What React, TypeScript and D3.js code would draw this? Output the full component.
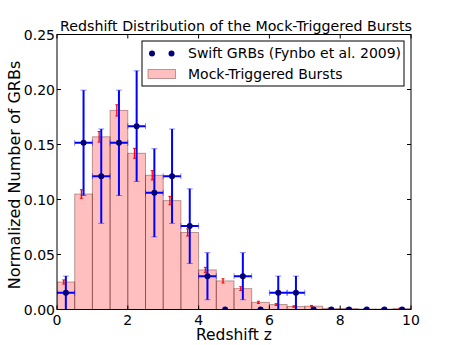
import React from "react";
import * as d3 from "d3";

// Mock-triggered bursts histogram (bin edges 0..10 step 0.5)
const binStarts = [0, 0.5, 1, 1.5, 2, 2.5, 3, 3.5, 4, 4.5, 5, 5.5, 6, 6.5, 7, 7.5, 8, 8.5, 9, 9.5];
const mockValues = [0.025, 0.105, 0.157, 0.181, 0.142, 0.122, 0.099, 0.070, 0.036, 0.026, 0.019, 0.0065, 0.0045, 0.0027, 0.003, 0.0009, 0.0009, 0.0004, 0.0004, 0.0009];
const mockErrors = [0.0019, 0.0039, 0.0048, 0.0051, 0.0045, 0.0042, 0.0038, 0.0032, 0.0023, 0.0019, 0.0017, 0.001, 0.0008, 0.0006, 0.0007, 0.0004, 0.0004, 0.0002, 0.0002, 0.0004];

// Swift GRBs (Fynbo et al. 2009)
const swiftZ = [0.25, 0.75, 1.25, 1.75, 2.25, 2.75, 3.25, 3.75, 4.25, 4.75, 5.25, 5.75, 6.25, 6.75, 7.25, 7.75, 8.25, 8.75, 9.25, 9.75];
const swiftValues = [0.0152, 0.1515, 0.1212, 0.1515, 0.1667, 0.1061, 0.1212, 0.0758, 0.0303, 0, 0.0303, 0, 0.0152, 0.0152, 0, 0, 0, 0, 0, 0];
const swiftErrors = [0.0152, 0.0479, 0.0429, 0.0479, 0.0503, 0.0401, 0.0429, 0.0339, 0.0214, 0, 0.0214, 0, 0.0152, 0.0152, 0, 0, 0, 0, 0, 0];
const swiftXErr = 0.25;

const xTicks = [0, 2, 4, 6, 8, 10];
const yTicks = [0, 0.05, 0.1, 0.15, 0.2, 0.25];

const titleText = "Redshift Distribution of the Mock-Triggered Bursts";
const xLabel = "Redshift z";
const yLabel = "Normalized Number of GRBs";
const legendSwift = "Swift GRBs (Fynbo et al. 2009)";
const legendMock = "Mock-Triggered Bursts";

export default function App() {
  const W = 457, H = 345;
  const left = 57, right = 411, top = 34.5, bottom = 309.5;
  const x = d3.scaleLinear().domain([0, 10]).range([left, right]);
  const y = d3.scaleLinear().domain([0, 0.25]).range([bottom, top]);
  const font = "DejaVu Sans, sans-serif";
  const tickLen = 4;
  const blue = "#0000ff";
  const navy = "#00007a";

  return (
    <svg width={W} height={H} style={{ position: "absolute", left: 0, top: 0, background: "#fff" }} fontFamily={font}>
      <defs>
        <clipPath id="plotclip">
          <rect x={left} y={top} width={right - left} height={bottom - top} />
        </clipPath>
      </defs>
      <rect x={0} y={0} width={W} height={H} fill="#fff" />
      <g clipPath="url(#plotclip)">
        {binStarts.map((b, i) => (
          <rect key={"bar" + i}
            x={x(b)} y={y(mockValues[i])}
            width={x(b + 0.5) - x(b)} height={y(0) - y(mockValues[i])}
            fill="rgba(255,0,0,0.25)" stroke="rgba(60,0,0,0.35)" strokeWidth={1} />
        ))}
        {binStarts.map((b, i) => {
          const cx = x(b + 0.25 - 0.06);
          const y1 = y(mockValues[i] + mockErrors[i]);
          const y2 = y(mockValues[i] - mockErrors[i]);
          return (
            <g key={"me" + i} stroke="#ff0000" strokeWidth={1}>
              <line x1={cx} x2={cx} y1={y1} y2={y2} strokeWidth={1.3} />
              <line x1={cx - 1.5} x2={cx + 1.5} y1={y1} y2={y1} />
              <line x1={cx - 1.5} x2={cx + 1.5} y1={y2} y2={y2} />
            </g>
          );
        })}
        {swiftZ.map((z, i) => {
          const v = swiftValues[i];
          const e = swiftErrors[i];
          const cx = x(z);
          const cy = y(v);
          if (v <= 0) return null;
          const x1 = x(z - swiftXErr), x2 = x(z + swiftXErr);
          const y1 = y(v + e), y2 = y(Math.max(v - e, 0));
          return (
            <g key={"se" + i}>
              <line x1={x1} x2={x2} y1={cy} y2={cy} stroke={blue} strokeWidth={2} />
              <line x1={cx} x2={cx} y1={y1} y2={y(v - e)} stroke={blue} strokeWidth={2} />
              <line x1={x1} x2={x1} y1={cy - 3} y2={cy + 3} stroke={blue} strokeOpacity={0.45} strokeWidth={1} />
              <line x1={x2} x2={x2} y1={cy - 3} y2={cy + 3} stroke={blue} strokeOpacity={0.45} strokeWidth={1} />
              <line x1={cx - 3} x2={cx + 3} y1={y1} y2={y1} stroke={blue} strokeOpacity={0.45} strokeWidth={1} />
              {v - e > 0.0005 && (
                <line x1={cx - 3} x2={cx + 3} y1={y2} y2={y2} stroke={blue} strokeOpacity={0.45} strokeWidth={1} />
              )}
            </g>
          );
        })}
        {swiftZ.map((z, i) => (
          <circle key={"sp" + i} cx={x(z)} cy={y(swiftValues[i])} r={3} fill={navy} />
        ))}
      </g>

      {/* frame */}
      <rect x={left} y={top} width={right - left} height={bottom - top} fill="none" stroke="#000" strokeWidth={1} />

      {/* ticks */}
      {xTicks.map((t) => (
        <g key={"xt" + t}>
          <line x1={x(t)} x2={x(t)} y1={bottom} y2={bottom - tickLen} stroke="#000" />
          <line x1={x(t)} x2={x(t)} y1={top} y2={top + tickLen} stroke="#000" />
          <text x={x(t)} y={325} fontSize={14} textAnchor="middle" fill="#000">{d3.format("d")(t)}</text>
        </g>
      ))}
      {yTicks.map((t) => (
        <g key={"yt" + t}>
          <line x1={left} x2={left + tickLen} y1={y(t)} y2={y(t)} stroke="#000" />
          <line x1={right} x2={right - tickLen} y1={y(t)} y2={y(t)} stroke="#000" />
          <text x={55} y={y(t)} dy="0.36em" fontSize={14} textAnchor="end" fill="#000">{d3.format(".2f")(t)}</text>
        </g>
      ))}

      {/* labels */}
      <text x={236} y={30.5} fontSize={14.2} textAnchor="middle" fill="#000">{titleText}</text>
      <text x={(left + right) / 2} y={340} fontSize={15.5} textAnchor="middle" fill="#000">{xLabel}</text>
      <text transform={`translate(20,175) rotate(-90)`} fontSize={16} textAnchor="middle" fill="#000">{yLabel}</text>

      {/* legend */}
      <rect x={142} y={41} width={262} height={45} fill="#fff" stroke="#000" strokeWidth={1} />
      <circle cx={152} cy={53.5} r={3} fill={navy} />
      <circle cx={171.5} cy={53.5} r={3} fill={navy} />
      <text x={188} y={58} fontSize={14} fill="#000">{legendSwift}</text>
      <rect x={148} y={69.5} width={27.5} height={9} fill="rgba(255,0,0,0.25)" stroke="rgba(60,0,0,0.35)" />
      <text x={188} y={78.5} fontSize={14} fill="#000">{legendMock}</text>
    </svg>
  );
}
